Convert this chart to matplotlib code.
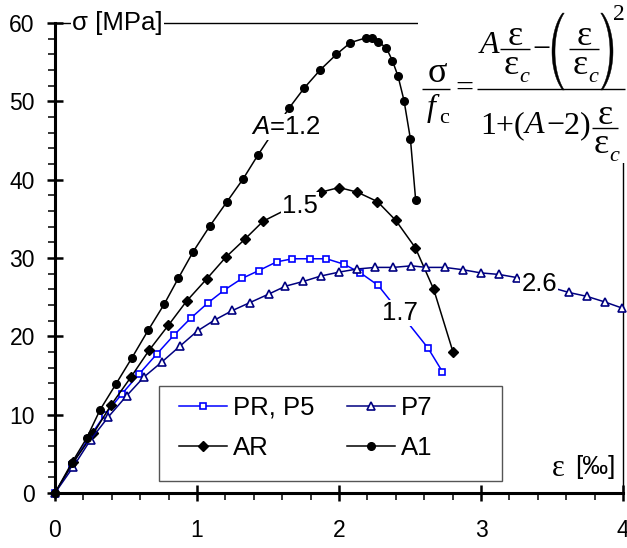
import numpy as np
import matplotlib
matplotlib.use("Agg")
import matplotlib.pyplot as plt
from matplotlib.ticker import MultipleLocator
from matplotlib.patches import Rectangle, Polygon

plt.rcParams['font.family'] = ['Liberation Sans', 'DejaVu Sans']
plt.rcParams['mathtext.fontset'] = 'custom'
plt.rcParams['mathtext.rm'] = 'Liberation Sans'
plt.rcParams['mathtext.it'] = 'Liberation Sans:italic'

# A1 - black circles
a1_x = [0, 0.117, 0.223, 0.317, 0.429, 0.540, 0.657, 0.769, 0.868, 0.973, 1.091, 1.208,
        1.325, 1.431, 1.647, 1.755, 1.867, 1.982, 2.081, 2.189, 2.233, 2.278, 2.334,
        2.376, 2.416, 2.458, 2.503, 2.540]
a1_y = [0, 3.8, 7.0, 10.6, 13.9, 17.2, 20.8, 24.1, 27.4, 30.8, 34.1, 37.1,
        40.1, 43.2, 49.1, 51.7, 54.0, 56.0, 57.5, 58.1, 58.1, 57.6, 56.8,
        55.2, 53.2, 50.1, 45.2, 37.4]

# AR - black diamonds
ar_x = [0, 0.129, 0.270, 0.394, 0.535, 0.662, 0.798, 0.927, 1.067, 1.203, 1.337, 1.466,
        1.872, 2.001, 2.130, 2.271, 2.400, 2.538, 2.667, 2.803]
ar_y = [0, 3.9, 7.6, 11.2, 14.8, 18.2, 21.4, 24.5, 27.3, 30.1, 32.4, 34.7,
        38.4, 39.0, 38.4, 37.2, 34.8, 31.3, 26.0, 18.0]

# PR, P5 - blue open squares
p5_x = [0, 0.117, 0.234, 0.352, 0.469, 0.593, 0.715, 0.840, 0.955, 1.079, 1.192, 1.318,
        1.436, 1.560, 1.672, 1.799, 1.912, 2.036, 2.151, 2.276, 2.627, 2.728]
p5_y = [0, 3.6, 6.9, 10.0, 12.6, 15.2, 17.7, 20.2, 22.3, 24.3, 25.9, 27.4,
        28.4, 29.5, 29.9, 29.9, 29.9, 29.2, 28.1, 26.5, 18.5, 15.5]

# P7 - navy open triangles
p7_x = [0, 0.129, 0.251, 0.375, 0.504, 0.626, 0.751, 0.880, 1.004, 1.126, 1.250, 1.372,
        1.506, 1.623, 1.747, 1.872, 2.001, 2.130, 2.257, 2.381, 2.510, 2.616, 2.745,
        2.873, 2.998, 3.127, 3.253, 3.619, 3.746, 3.870, 3.995]
p7_y = [0, 3.35, 6.8, 9.7, 12.4, 14.8, 16.7, 18.75, 20.7, 22.1, 23.3, 24.3,
        25.4, 26.4, 27.0, 27.7, 28.2, 28.6, 28.8, 28.8, 29.0, 28.8, 28.8,
        28.5, 28.1, 27.9, 27.5, 25.6, 25.1, 24.4, 23.6]

W, H = 627, 548
fig = plt.figure(figsize=(W / 100, H / 100), dpi=100)
ax = fig.add_axes([0.0877, 0.1004, 0.9059, 0.8576])

lw = 1.1
ax.plot(p5_x, p5_y, color='#0000FF', lw=lw, marker='s', ms=5, mfc='white',
        mec='#0000FF', mew=1.2, label='PR, P5', clip_on=False, zorder=3)
ax.plot(ar_x, ar_y, color='black', lw=lw, marker='D', ms=5, mfc='black',
        mec='black', label='AR', clip_on=False, zorder=3)
ax.plot(p7_x, p7_y, color='#000080', lw=lw, marker='^', ms=6, mfc='white',
        mec='#000080', mew=1.2, label='P7', clip_on=False, zorder=3)
ax.plot(a1_x, a1_y, color='black', lw=lw, marker='o', ms=5.5, mfc='black',
        mec='black', label='A1', clip_on=False, zorder=3)

ax.set_xlim(0, 4)
ax.set_ylim(0, 60)
ax.xaxis.set_major_locator(MultipleLocator(1))
ax.xaxis.set_minor_locator(MultipleLocator(0.2))
ax.yaxis.set_major_locator(MultipleLocator(10))
ax.yaxis.set_minor_locator(MultipleLocator(2))
ax.tick_params(which='major', direction='inout', length=11, width=1.8,
               labelsize=16.5)
ax.tick_params(which='minor', direction='out', length=5, width=1.1)
ax.tick_params(axis='x', which='major', pad=13)
ax.tick_params(axis='y', which='major', pad=9)

ax.spines['left'].set_linewidth(2.2)
ax.spines['bottom'].set_linewidth(2.2)
ax.spines['top'].set_linewidth(1.0)
ax.spines['right'].set_linewidth(1.0)

bg = dict(facecolor='white', edgecolor='none', pad=1)
fs = 18.5
ax.text(0.12, 60, 'σ [MPa]', fontsize=fs, va='center', ha='left', bbox=bg, zorder=5)
ax.text(1.38, 46.7, r'$A$=1.2', fontsize=fs, va='center', ha='left', bbox=bg, zorder=5)
ax.text(1.60, 36.7, '1.5', fontsize=fs, va='center', ha='left', bbox=bg, zorder=5)
ax.text(2.30, 23.0, '1.7', fontsize=fs, va='center', ha='left', bbox=bg, zorder=5)
ax.text(3.285, 26.7, '2.6', fontsize=fs, va='center', ha='left', bbox=bg, zorder=5)
ax.text(3.50, 3.1, 'ε', fontsize=22, va='center', ha='left',
        family='Liberation Serif', zorder=5)
ax.text(3.95, 3.35, '[‰]', fontsize=fs, va='center', ha='right', zorder=5)

# legend: entries without frame, frame drawn as a box like the original
leg = ax.legend(ncol=2, loc='upper left', bbox_to_anchor=(0.2183, 0.2064),
                fontsize=fs, frameon=False, handlelength=1.86,
                handletextpad=0.23, columnspacing=1.29, labelspacing=0.62,
                borderpad=0, borderaxespad=0)
leg.set_zorder(6)
ax.add_patch(Rectangle((0.1836, 0.0255), 0.6028, 0.2028, transform=ax.transAxes,
                       facecolor='white', edgecolor='#555555', lw=1.0, zorder=5.5))

# formula drawn in an overlay with pixel coordinates
ov = fig.add_axes([0, 0, 1, 1], facecolor='none')
ov.set_xlim(0, W)
ov.set_ylim(H, 0)
ov.axis('off')
ov.add_patch(Rectangle((418, 0), W - 418, 163, facecolor='white', edgecolor='none'))

ff = 'Liberation Serif'
big, sub, greek = 23, 16, 26


def t(x, y, s, size=big, ha='center', style='normal'):
    ov.text(x, y, s, fontsize=size, ha=ha, va='baseline', family=ff, style=style)


def bar(x0, x1, y):
    ov.plot([x0, x1], [y, y], color='black', lw=1.0, solid_capstyle='butt')


def eps_frac(xc, ybar, half=15):
    bar(xc - half, xc + half, ybar)
    t(xc + 0.5, ybar - 4, 'ε', size=greek)
    t(xc - 3, ybar + 25, 'ε', size=greek)
    t(xc + 9.5, ybar + 33, 'c', size=sub, style='italic')


def paren(cx, cy, a, b, left=True):
    th = np.linspace(np.radians(-56), np.radians(56), 40)
    sgn = -1 if left else 1
    outer = np.column_stack([cx + sgn * a * np.cos(th), cy + b * np.sin(th)])
    inner = np.column_stack([cx + sgn * (a - 3.0) * np.cos(th[::-1]), cy + b * np.sin(th[::-1])])
    ov.add_patch(Polygon(np.vstack([outer, inner]), closed=True, facecolor='black',
                         edgecolor='black', lw=0.3))


# sigma / f_c
bar(422, 450, 89.3)
t(437.5, 82, 'σ', size=greek)
t(431, 116, 'f', style='italic')
t(444, 123, 'c', size=sub)
t(464, 96.5, '=')
bar(477, 625, 89.3)
# numerator
t(490, 53.3, 'A', style='italic')
eps_frac(514.5, 49.3)
t(541.5, 57.5, '−')
paren(576, 51.5, 24, 46.4, left=True)
eps_frac(583.5, 49.3)
paren(589, 51.5, 24, 46.4, left=False)
t(619, 20, '2', size=17)
# denominator
t(480, 133.3, '1+(', ha='left')
t(525, 133.3, 'A', ha='left', style='italic')
t(546, 133.3, '−2)', ha='left')
eps_frac(604.5, 128, half=13)

fig.savefig('out.png', dpi=100)
